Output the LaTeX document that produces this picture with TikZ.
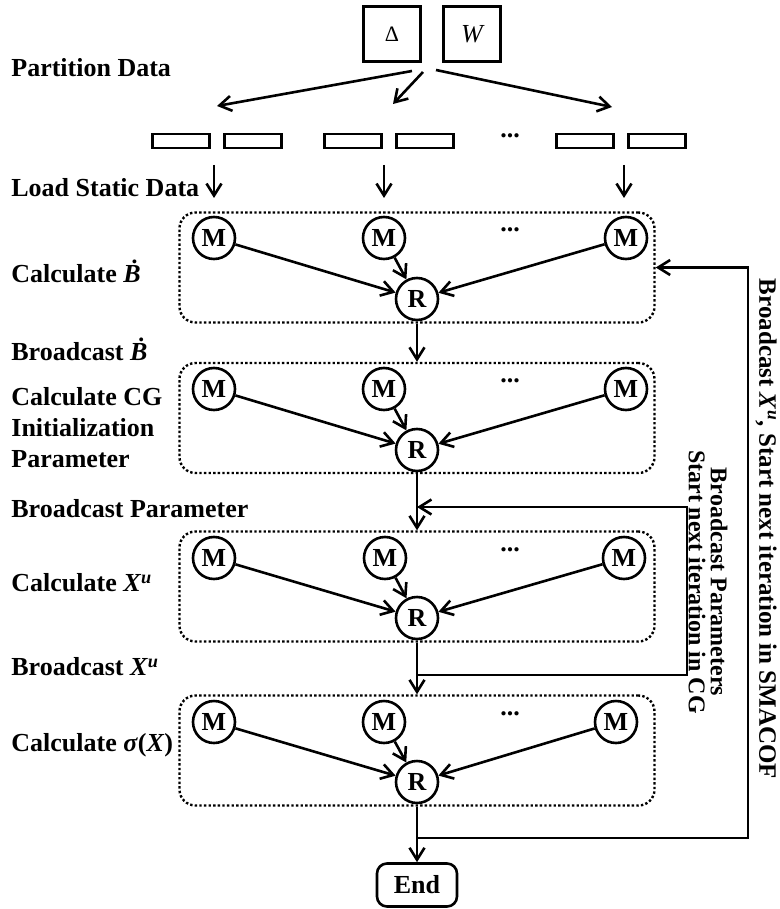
\documentclass[tikz,border=0pt]{standalone}
\usepackage{fontspec}
\setmainfont{Liberation Serif}
\usetikzlibrary{shapes,shapes.geometric,arrows.meta,positioning,fit,calc}

\begin{document}
\begin{tikzpicture}[
    x=0.5pt,y=-0.5pt,
    >={Straight Barb[length=6pt,width=7.5pt]},
    every node/.style={font=\fontsize{13}{15}\selectfont\bfseries},
    lbl/.style={anchor=west,inner sep=0pt},
    data/.style={rectangle,draw,line width=1.2pt,minimum width=28.5pt,minimum height=27.5pt,inner sep=0pt},
    part/.style={rectangle,draw,line width=1.2pt,minimum width=28.5pt,minimum height=7pt,inner sep=0pt},
    stage/.style={rectangle,draw,dash pattern=on 1.2pt off 1.1pt,line width=1.2pt,rounded corners=8pt,minimum width=237.5pt,minimum height=55pt},
    worker/.style={circle,draw,line width=1.3pt,minimum size=21pt,inner sep=0pt},
    link/.style={->,line width=1.3pt},
    side/.style={rotate=-90,font=\fontsize{12.5}{11}\selectfont\bfseries,align=center}]
    \useasboundingbox (0,0) rectangle (780,909);

    % input data
    \node[data] (Delta) at (392,34) {\fontsize{11}{11}\selectfont\mdseries Δ};
    \node[data] (W) at (472,34) {\mdseries\itshape W};
    \coordinate (sp1) at (412,71);
    \coordinate (sp2) at (423,72);
    \coordinate (sp3) at (436,70);
    \coordinate (tg1) at (217,106);
    \coordinate (tg2) at (393,104);
    \coordinate (tg3) at (612,107);
    \draw[link] (sp1) -- (tg1);
    \draw[link] (sp2) -- (tg2);
    \draw[link] (sp3) -- (tg3);

    % partitions
    \node[part] (P1) at (181,141) {};
    \node[part] (P2) at (253,141) {};
    \node[part] (P3) at (353,141) {};
    \node[part] (P4) at (425,141) {};
    \node[part] (P5) at (585,141) {};
    \node[part] (P6) at (657,141) {};
    \node (pdots) at (510,136) {...};
    \coordinate (ld1) at (214,165);
    \coordinate (ld2) at (384,165);
    \coordinate (ld3) at (624,165);
    \draw[link] (ld1) -- ++(0,33);
    \draw[link] (ld2) -- ++(0,33);
    \draw[link] (ld3) -- ++(0,33);

    % stage boxes
    \node[stage] (S1) at (417,267.5) {};
    \node[stage] (S2) at (417,418) {};
    \node[stage] (S3) at (417,586.5) {};
    \node[stage] (S4) at (417,750.5) {};

    % stage 1
    \node[worker] (M11) at (214,238) {M};
    \node[worker] (M12) at (384,238) {M};
    \node[worker] (M13) at (626,238) {M};
    \node[worker] (R1) at (417,299) {R};
    \node (d1) at (510,230) {...};
    \draw[link] (M11) -- (R1);
    \draw[link] (M12) -- (R1);
    \draw[link] (M13) -- (R1);

    % stage 2
    \node[worker] (M21) at (214,389) {M};
    \node[worker] (M22) at (384,389) {M};
    \node[worker] (M23) at (626,389) {M};
    \node[worker] (R2) at (417,450) {R};
    \node (d2) at (510,381) {...};
    \draw[link] (M21) -- (R2);
    \draw[link] (M22) -- (R2);
    \draw[link] (M23) -- (R2);

    % stage 3
    \node[worker] (M31) at (214,558) {M};
    \node[worker] (M32) at (385,558) {M};
    \node[worker] (M33) at (624,558) {M};
    \node[worker] (R3) at (417,618) {R};
    \node (d3) at (510,550) {...};
    \draw[link] (M31) -- (R3);
    \draw[link] (M32) -- (R3);
    \draw[link] (M33) -- (R3);

    % stage 4
    \node[worker] (M41) at (214,722) {M};
    \node[worker] (M42) at (384,722) {M};
    \node[worker] (M43) at (616,722) {M};
    \node[worker] (R4) at (417,782) {R};
    \node (d4) at (510,714) {...};
    \draw[link] (M41) -- (R4);
    \draw[link] (M42) -- (R4);
    \draw[link] (M43) -- (R4);

    \node[draw,rounded corners=5pt,line width=1.3pt,minimum width=40pt,minimum height=21.5pt] (End) at (417,885) {End};

    % flow between stages
    \draw[link] (S1.south) -- (S2.north);
    \draw[link] (S2.south) -- (S3.north);
    \draw[link] (S3.south) -- (S4.north);
    \draw[link] (S4.south) -- (End.north);

    % CG loop
    \coordinate (cg0) at (417,675);
    \coordinate (cg1) at (687,675);
    \coordinate (cg2) at (417,507);
    \draw[link] (cg0) -- (cg1) |- (cg2);

    % SMACOF loop
    \coordinate (sm0) at (417,838);
    \coordinate (sm1) at (748,838);
    \draw[link] (sm0) -- (sm1) |- (S1.east);

    % step labels
    \node[lbl] (lPart) at (11,68) {Partition Data};
    \node[lbl] (lLoad) at (11,188) {Load Static Data};
    \node[lbl] (lCalcB) at (11,271) {Calculate \textit{\.{B}}};
    \node[lbl] (lBcB) at (11,349) {Broadcast \textit{\.{B}}};
    \node[lbl,align=left,font=\fontsize{13}{15.5}\selectfont\bfseries] (lCG) at (11,428) {Calculate CG\\Initialization\\Parameter};
    \node[lbl] (lBcP) at (11,509) {Broadcast Parameter};
    \node[lbl] (lCalcX) at (11,583) {Calculate \textit{X}\textsuperscript{\textit{u}}};
    \node[lbl] (lBcX) at (11,667) {Broadcast \textit{X}\textsuperscript{\textit{u}}};
    \node[lbl] (lSigma) at (11,745) {Calculate \textit{σ}(\textit{X})};

    \node[side] (smTxt) at (766,529) {Broadcast \textit{X}\textsuperscript{\textit{u}}, Start next iteration in SMACOF};
    \node[side,font=\fontsize{12}{11}\selectfont\bfseries] (cgTxt) at (708,582) {Broadcast Parameters\\Start next iteration in CG};
\end{tikzpicture}
\end{document}
